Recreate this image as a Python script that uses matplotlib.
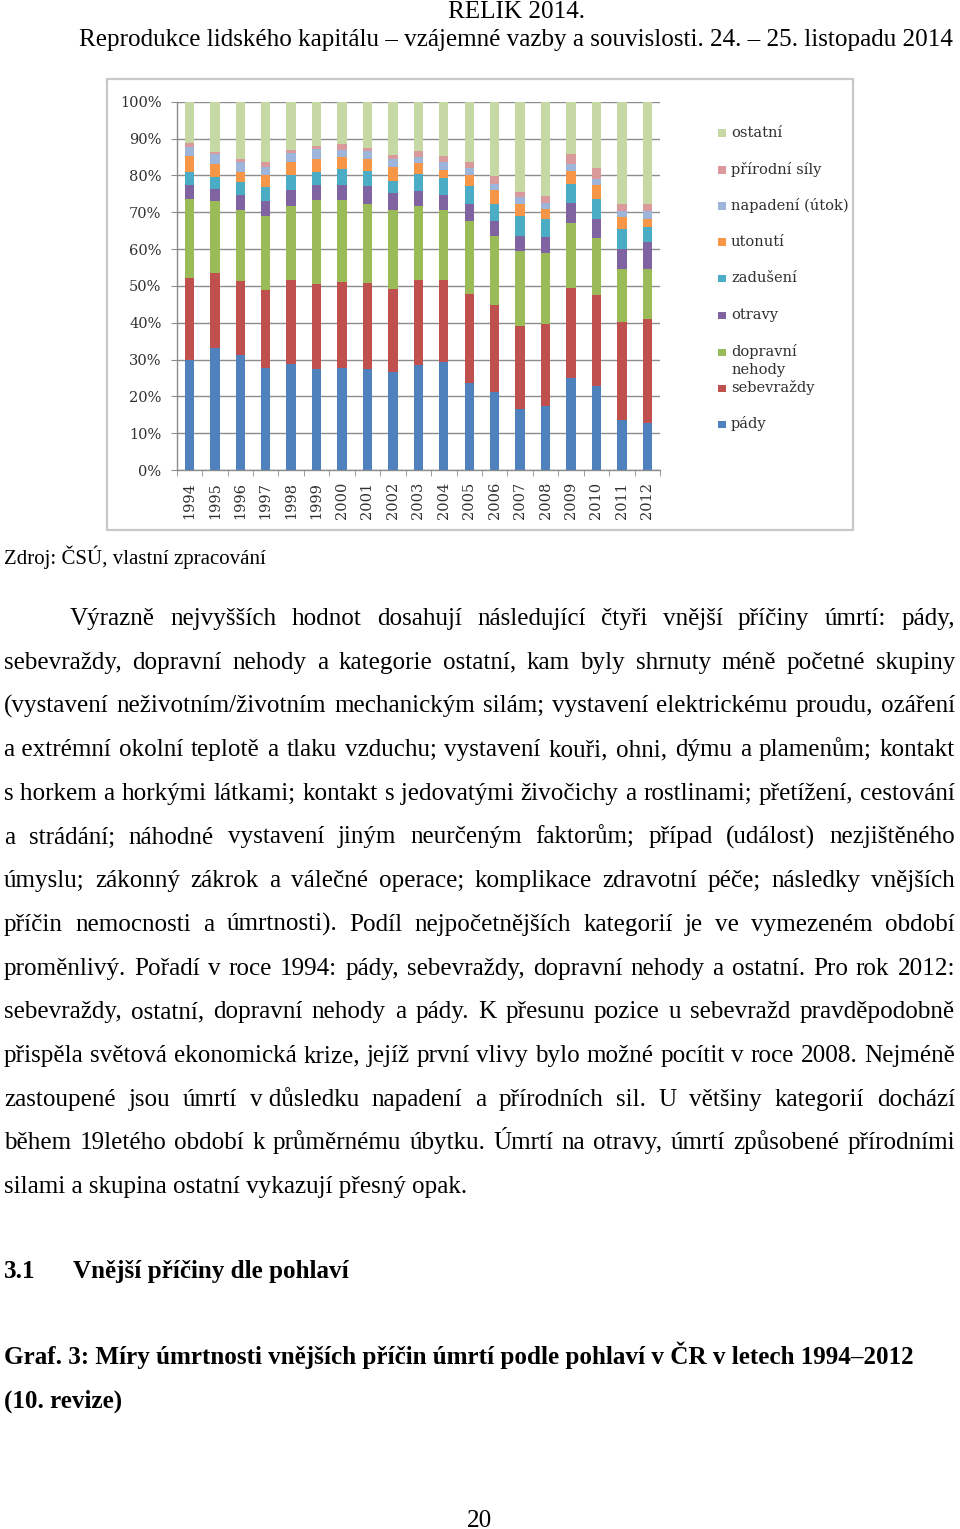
import numpy as np
import matplotlib
matplotlib.use("Agg")
import matplotlib.pyplot as plt
from matplotlib.patches import Rectangle

# ---------------- data ----------------
years = [str(y) for y in range(1994, 2013)]
pady = [30.0, 33.0, 31.3, 27.8, 28.7, 27.5, 27.7, 27.5, 26.6, 28.5, 29.4, 23.5, 21.2, 16.6, 17.3, 25.1, 22.8, 13.5, 12.8]
sebevrazdy = [22.0, 20.4, 20.1, 21.0, 22.8, 23.0, 23.4, 23.3, 22.5, 23.1, 22.2, 24.2, 23.6, 22.6, 22.3, 24.4, 24.7, 26.6, 28.2]
dopravni = [21.5, 19.6, 19.3, 20.2, 20.3, 22.7, 22.1, 21.5, 21.6, 20.2, 19.0, 19.8, 18.6, 20.2, 19.3, 17.5, 15.5, 14.4, 13.7]
otravy = [3.9, 3.3, 3.9, 4.0, 4.2, 4.3, 4.3, 4.7, 4.6, 4.0, 4.1, 4.8, 4.2, 4.2, 4.3, 5.5, 5.2, 5.6, 7.3]
zaduseni = [3.5, 3.3, 3.6, 3.8, 4.0, 3.5, 4.3, 4.2, 3.3, 4.6, 4.6, 4.7, 4.7, 5.3, 5.0, 5.2, 5.3, 5.3, 3.9]
utonuti = [4.3, 3.4, 2.8, 3.4, 3.5, 3.5, 3.2, 3.2, 3.7, 3.0, 2.2, 3.0, 3.6, 3.2, 2.7, 3.4, 3.8, 3.2, 2.3]
napadeni = [2.6, 2.7, 2.5, 2.2, 2.5, 2.7, 2.0, 2.1, 2.2, 1.7, 2.1, 2.0, 1.8, 1.9, 1.7, 2.1, 1.6, 1.8, 2.1]
prirodni = [0.9, 0.6, 0.9, 1.2, 0.8, 0.8, 1.4, 1.0, 1.1, 1.5, 1.6, 1.5, 2.1, 1.5, 1.8, 2.7, 3.1, 1.7, 1.8]
ostatni = [11.3, 13.7, 15.6, 16.4, 13.2, 12.0, 11.6, 12.5, 14.4, 13.4, 14.8, 16.5, 20.2, 24.5, 25.6, 14.1, 18.0, 27.9, 27.9]

categories = ["pády", "sebevraždy", "dopravní nehody", "otravy", "zadušení",
              "utonutí", "napadení (útok)", "přírodní síly", "ostatní"]
series = [pady, sebevrazdy, dopravni, otravy, zaduseni, utonuti, napadeni, prirodni, ostatni]
colors = ["#4F81BD", "#C0504D", "#9BBB59", "#8064A2", "#4BACC6",
          "#F79646", "#9DB5DA", "#DA9A9C", "#C6D9A4"]
ytick_labels = [f"{v}%" for v in range(0, 101, 10)]

header1 = "RELIK 2014."
header2 = "Reprodukce lidského kapitálu – vzájemné vazby a souvislosti. 24. – 25. listopadu 2014"
source = "Zdroj: ČSÚ, vlastní zpracování"
body = [
    "Výrazně nejvyšších hodnot dosahují následující čtyři vnější příčiny úmrtí: pády,",
    "sebevraždy, dopravní nehody a kategorie ostatní, kam byly shrnuty méně početné skupiny",
    "(vystavení neživotním/životním mechanickým silám; vystavení elektrickému proudu, ozáření",
    "a\u00a0extrémní okolní teplotě a tlaku vzduchu; vystavení kouři, ohni, dýmu a plamenům; kontakt",
    "s\u00a0horkem a horkými látkami; kontakt s\u00a0jedovatými živočichy a rostlinami; přetížení, cestování",
    "a strádání; náhodné vystavení jiným neurčeným faktorům; případ (událost) nezjištěného",
    "úmyslu; zákonný zákrok a válečné operace; komplikace zdravotní péče; následky vnějších",
    "příčin nemocnosti a úmrtnosti). Podíl nejpočetnějších kategorií je ve vymezeném období",
    "proměnlivý. Pořadí v roce 1994: pády, sebevraždy, dopravní nehody a ostatní. Pro rok 2012:",
    "sebevraždy, ostatní, dopravní nehody a pády. K přesunu pozice u sebevražd pravděpodobně",
    "přispěla světová ekonomická krize, jejíž první vlivy bylo možné pocítit v roce 2008. Nejméně",
    "zastoupené jsou úmrtí v\u00a0důsledku napadení a přírodních sil. U většiny kategorií dochází",
    "během 19letého období k průměrnému úbytku. Úmrtí na otravy, úmrtí způsobené přírodními",
    "silami a skupina ostatní vykazují přesný opak.",
]
heading_num = "3.1"
heading_txt = "Vnější příčiny dle pohlaví"
graf1 = "Graf. 3: Míry úmrtnosti vnějších příčin úmrtí podle pohlaví v ČR v letech 1994–2012"
graf2 = "(10. revize)"
page_no = "20"

# ---------------- figure ----------------
W, H = 960, 1529
fig = plt.figure(figsize=(W / 100, H / 100), dpi=100)
fig.patch.set_facecolor("white")
renderer = fig.canvas.get_renderer()

def fx(x):
    return x / W

def fy(y):
    return 1 - y / H

SERIF = ["Liberation Serif", "DejaVu Serif"]
CHART_FONT = ["DejaVu Serif"]

# chart frame
fig.patches.append(Rectangle((fx(107), fy(530)), fx(853) - fx(107), fy(79) - fy(530),
                             transform=fig.transFigure, fill=False,
                             edgecolor="#C8C8C8", linewidth=1.6))

ax = fig.add_axes([fx(176.7), fy(470), (660 - 176.7) / W, (470 - 101.7) / H])
x = np.arange(len(years))
bottom = np.zeros(len(years))
for vals, c in zip(series, colors):
    ax.bar(x, vals, width=0.37, bottom=bottom, color=c, linewidth=0, zorder=3)
    bottom += np.array(vals)

ax.set_xlim(-0.5, len(years) - 0.5)
ax.set_ylim(0, 100)
ax.set_yticks(np.arange(0, 101, 10))
ax.set_yticklabels(ytick_labels, fontsize=10.5, family=CHART_FONT, color="#303030")
ax.yaxis.grid(True, color="#8C8C8C", linewidth=1.0, zorder=0)
ax.set_axisbelow(True)
ax.set_xticks(x)
ax.set_xticklabels(years, rotation=90, fontsize=10.5, family=CHART_FONT, color="#303030")
ax.set_xticks(np.arange(-0.5, len(years), 1), minor=True)
ax.tick_params(axis="x", which="major", length=0, pad=8.5)
ax.tick_params(axis="x", which="minor", length=4, color="#8C8C8C", direction="out")
ax.tick_params(axis="y", length=4, color="#8C8C8C", direction="out", pad=7)
for s in ["top", "right"]:
    ax.spines[s].set_visible(False)
for s in ["left", "bottom"]:
    ax.spines[s].set_color("#8C8C8C")
    ax.spines[s].set_linewidth(1.0)

# legend (manual, reproducing the Excel layout)
leg_rows = [133, 170, 206, 242, 278, 315, 352, 388, 424]
for row_y, lab, c in zip(leg_rows, categories[::-1], colors[::-1]):
    fig.patches.append(Rectangle((fx(718), fy(row_y + 3.5)), 8 / W, 7 / H,
                                 transform=fig.transFigure, facecolor=c, edgecolor="none"))
    parts = lab.split(" ") if lab == "dopravní nehody" else [lab]
    for k, p in enumerate(parts):
        fig.text(fx(731), fy(row_y + 4 + 18 * k), p, fontsize=10.5, family=CHART_FONT,
                 color="#303030", ha="left", va="baseline")

# ---------------- page text ----------------
def text_width(s, size, weight="normal"):
    t = fig.text(0, 0, s, fontsize=size, fontweight=weight, family=SERIF)
    w = t.get_window_extent(renderer).width
    t.remove()
    return w

def fit_size(s, target, weight="normal"):
    return 20 * target / text_width(s, 20, weight)

def put(s, xl, base, size, weight="normal", ha="left"):
    fig.text(fx(xl), fy(base), s, fontsize=size, fontweight=weight, family=SERIF,
             ha=ha, va="baseline", color="black")

def justify(line, x0, x1, base, size, weight="normal"):
    words = line.split(" ")
    widths = [text_width(w, size, weight) for w in words]
    gap = (x1 - x0 - sum(widths)) / (len(words) - 1)
    xx = x0
    for w, wd in zip(words, widths):
        put(w, xx, base, size, weight)
        xx += wd + gap

hsize = fit_size(header2, 955 - 79)
put(header1, 516, 18, hsize, ha="center")
put(header2, 79, 46, hsize)

put(source, 4, 564, fit_size(source, 261))

bsize = fit_size(body[-1], 464)
for i, line in enumerate(body):
    base = 625 + i * 43.7
    if i == len(body) - 1:
        put(line, 4, base, bsize)
    else:
        justify(line, 70 if i == 0 else 4, 955, base, bsize)

put(heading_num, 4, 1278, bsize, weight="bold")
put(heading_txt, 73, 1278, bsize, weight="bold")
gsize = fit_size(graf1, 916 - 4, weight="bold")
put(graf1, 4, 1364, gsize, weight="bold")
put(graf2, 4, 1408, gsize, weight="bold")
put(page_no, 480, 1527, bsize, ha="center")

fig.savefig("out.png", dpi=100, facecolor="white")
